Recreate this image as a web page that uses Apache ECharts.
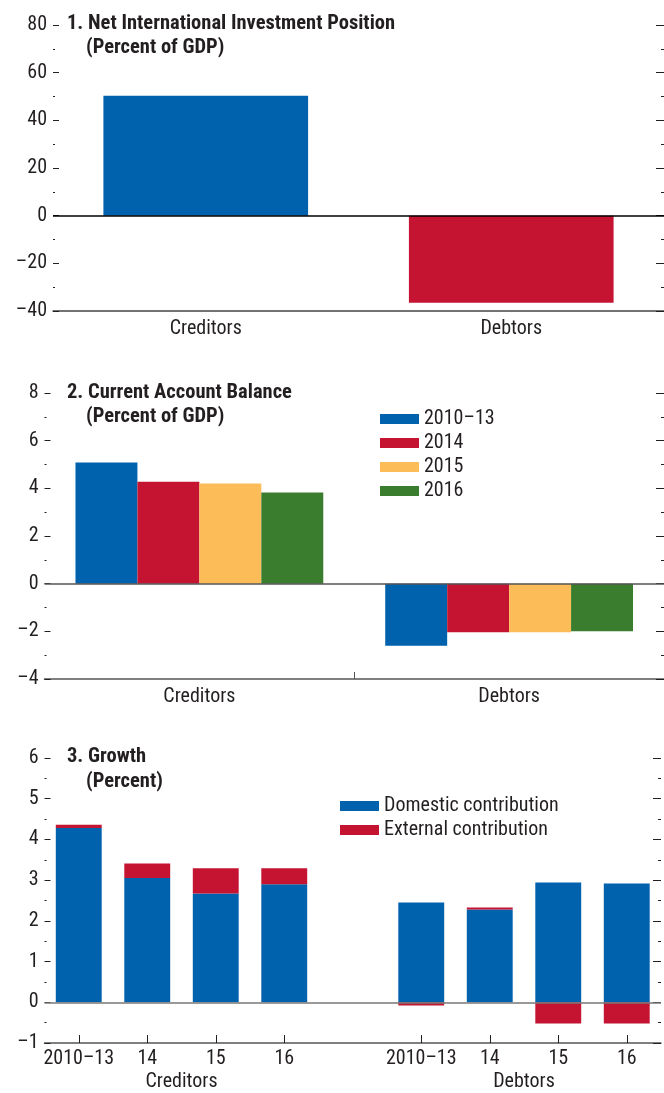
<!DOCTYPE html>
<html>
<head>
<meta charset="utf-8">
<title>Creditors and Debtors</title>
<script src="https://cdn.jsdelivr.net/npm/echarts@6/dist/echarts.min.js"></script>
<style>html,body{margin:0;padding:0;background:#fff;}</style>
</head>
<body>
<div id="main" style="width:664px;height:1093px;"></div>
<script type="text/javascript">
var FONT = '"Roboto Condensed", Roboto, sans-serif';
var INK = '#231f20';

// 1. Net international investment position
var niipCats = ['Creditors', 'Debtors'];
var niipValues = [50.3, -36.5];

// 2. Current account balance
var caCats = ['Creditors', 'Debtors'];
var caYears = ['2010–13', '2014', '2015', '2016'];
var ca2010_13 = [5.08, -2.6];
var ca2014 = [4.28, -2.04];
var ca2015 = [4.2, -2.04];
var ca2016 = [3.82, -2.0];

// 3. Growth
var growthCats = ['2010–13', '14', '15', '16', '', '2010–13', '14', '15', '16'];
var growthGroups = ['', '', 'Creditors', '', '', '', '', 'Debtors', '', ''];
var growthNames = ['Domestic contribution', 'External contribution'];
var domestic = [4.28, 3.05, 2.67, 2.90, null, 2.45, 2.28, 2.94, 2.92];
var external = [0.08, 0.36, 0.62, 0.39, null, -0.08, 0.05, -0.52, -0.52];

var blue = '#0061ad', red = '#c41432', yellow = '#fcbc58', green = '#3a7d2e';

function fmt(v) {
  return v < 0 ? '–' + Math.abs(v) : String(v);
}

function leftY(g, min, max, step) {
  return {
    type: 'value', gridIndex: g, position: 'left', min: min, max: max, interval: step,
    axisLine: { show: false },
    axisTick: { show: true, inside: true, length: 6, lineStyle: { color: INK } },
    minorTick: { show: true, splitNumber: 2, length: 2, lineStyle: { color: INK } },
    splitLine: { show: false },
    axisLabel: { fontFamily: FONT, fontSize: 20, color: INK, margin: 6, formatter: fmt }
  };
}

function rightY(g, min, max, step) {
  return {
    type: 'value', gridIndex: g, position: 'right', min: min, max: max, interval: step,
    axisLine: { show: false },
    axisTick: { show: true, inside: true, length: 8, lineStyle: { color: INK } },
    minorTick: { show: true, splitNumber: 2, length: 3, lineStyle: { color: INK } },
    splitLine: { show: false },
    axisLabel: { show: false }
  };
}

function zeroLine(color) {
  return {
    silent: true, symbol: 'none', label: { show: false },
    lineStyle: { color: color, width: 1.5, type: 'solid' },
    data: [{ yAxis: 0 }]
  };
}

function title(text, left, top) {
  return {
    text: text, left: left, top: top, padding: 0,
    textStyle: { fontFamily: FONT, fontWeight: 'bold', fontSize: 20.5, lineHeight: 20, color: INK }
  };
}

var myChart = echarts.init(document.getElementById('main'));

var option = {
  animation: false,
  backgroundColor: '#fff',
  title: [
    title('1. Net International Investment Position', 67, 14),
    title('(Percent of GDP)', 86, 38),
    title('2. Current Account Balance', 67, 383),
    title('(Percent of GDP)', 86, 407),
    title('3. Growth', 67, 747),
    title('(Percent)', 86, 772)
  ],
  legend: [
    {
      data: caYears, orient: 'vertical', left: 380, top: 409, padding: 0,
      itemWidth: 39, itemHeight: 10, itemGap: 4, icon: 'rect',
      textStyle: { fontFamily: FONT, fontSize: 20, lineHeight: 20, color: INK }
    },
    {
      data: growthNames, orient: 'vertical', left: 340, top: 796, padding: 0,
      itemWidth: 39, itemHeight: 10, itemGap: 4, icon: 'rect',
      textStyle: { fontFamily: FONT, fontSize: 20, lineHeight: 20, color: INK }
    }
  ],
  grid: [
    { left: 53, right: 0, top: 25, height: 286 },
    { left: 44.5, right: 0, top: 393, height: 286 },
    { left: 44.5, right: 0, top: 758, height: 285 }
  ],
  xAxis: [
    {
      type: 'category', gridIndex: 0, data: niipCats, position: 'bottom',
      axisLine: { onZero: false, lineStyle: { color: '#444', width: 1.5 } },
      axisTick: { show: false },
      axisLabel: { fontFamily: FONT, fontSize: 20, color: INK, margin: 8 }
    },
    {
      type: 'category', gridIndex: 1, data: caCats, position: 'bottom',
      axisLine: { onZero: false, lineStyle: { color: '#555', width: 1.5 } },
      axisTick: { show: false },
      axisLabel: { fontFamily: FONT, fontSize: 20, color: INK, margin: 8 }
    },
    {
      type: 'category', gridIndex: 2, data: growthCats, position: 'bottom',
      axisLine: { onZero: false, lineStyle: { color: '#555', width: 1.5 } },
      axisTick: { show: true, inside: true, length: 8, alignWithLabel: true, lineStyle: { color: INK },
        interval: function (i, v) { return v !== ''; } },
      axisLabel: { fontFamily: FONT, fontSize: 20, color: INK, margin: 6, interval: 0 }
    },
    {
      type: 'category', gridIndex: 2, data: growthGroups, position: 'bottom', offset: 23,
      boundaryGap: false,
      axisLine: { show: false, onZero: false }, axisTick: { show: false },
      axisLabel: { fontFamily: FONT, fontSize: 20, color: INK, margin: 6, interval: 0 }
    },
    {
      // divider tick between the two groups of panel 2
      type: 'category', gridIndex: 1, data: ['', '', ''], position: 'bottom',
      axisLine: { show: false, onZero: false }, axisLabel: { show: false },
      axisTick: { show: true, inside: true, length: 7, alignWithLabel: true, lineStyle: { color: '#555' },
        interval: function (i) { return i === 1; } }
    }
  ],
  yAxis: [
    leftY(0, -40, 80, 20), rightY(0, -40, 80, 20),
    leftY(1, -4, 8, 2), rightY(1, -4, 8, 2),
    leftY(2, -1, 6, 1), rightY(2, -1, 6, 1)
  ],
  series: [
    {
      type: 'bar', xAxisIndex: 0, yAxisIndex: 0, barCategoryGap: '33%',
      data: niipValues.map(function (v, i) {
        return { value: v, itemStyle: { color: [blue, red][i] } };
      }),
      markLine: zeroLine('#000')
    },
    { name: caYears[0], type: 'bar', xAxisIndex: 1, yAxisIndex: 2, data: ca2010_13, itemStyle: { color: blue },
      barGap: '0%', barCategoryGap: '20%', markLine: zeroLine('#555') },
    { name: caYears[1], type: 'bar', xAxisIndex: 1, yAxisIndex: 2, data: ca2014, itemStyle: { color: red }, barGap: '0%', barCategoryGap: '20%' },
    { name: caYears[2], type: 'bar', xAxisIndex: 1, yAxisIndex: 2, data: ca2015, itemStyle: { color: yellow }, barGap: '0%', barCategoryGap: '20%' },
    { name: caYears[3], type: 'bar', xAxisIndex: 1, yAxisIndex: 2, data: ca2016, itemStyle: { color: green }, barGap: '0%', barCategoryGap: '20%' },
    { name: growthNames[0], type: 'bar', xAxisIndex: 2, yAxisIndex: 4, stack: 'g', data: domestic,
      itemStyle: { color: blue }, barCategoryGap: '33%', markLine: zeroLine('#777') },
    { name: growthNames[1], type: 'bar', xAxisIndex: 2, yAxisIndex: 4, stack: 'g', data: external,
      itemStyle: { color: red }, barCategoryGap: '33%' }
  ]
};

myChart.setOption(option);
</script>
</body>
</html>
